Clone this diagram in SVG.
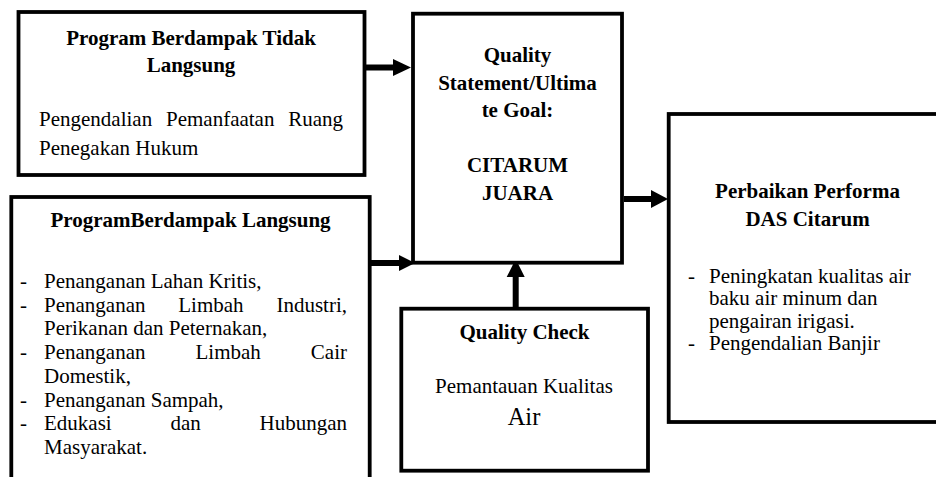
<svg xmlns="http://www.w3.org/2000/svg" width="936" height="477" viewBox="0 0 936 477" font-family="'Liberation Serif', serif">
<style>
.box{fill:#fff;stroke:#000;stroke-width:3.8}
.t{font-family:'Liberation Serif', serif;font-size:21px;fill:#000}
.b{font-weight:bold}
.c{text-anchor:middle}
.e{text-anchor:end}
.shaft{stroke:#000;stroke-width:6;fill:none}
.head{fill:#000}
</style>
<rect width="936" height="477" fill="#fff"/>
<g id="connectors">
  <line class="shaft" x1="366" y1="67.5" x2="396" y2="67.5"/>
  <polygon class="head" points="393,59 411,67.5 393,76"/>
  <line class="shaft" x1="371" y1="263" x2="402" y2="263"/>
  <polygon class="head" points="399,255 415,263 399,271"/>
  <line class="shaft" x1="624" y1="199" x2="654" y2="199"/>
  <polygon class="head" points="651,190 668,199 651,208"/>
  <line class="shaft" x1="515.7" y1="307" x2="515.7" y2="274"/>
  <polygon class="head" points="506.7,277 515.7,259 524.7,277"/>
</g>
<g id="indirect">
  <rect class="box" x="18.5" y="12" width="346" height="163"/>
  <text class="t b c" x="191" y="45">Program Berdampak Tidak</text>
  <text class="t b c" x="191" y="72">Langsung</text>
  <text class="t" x="39" y="126">Pengendalian</text>
  <text class="t" x="166" y="126">Pemanfaatan</text>
  <text class="t e" x="343" y="126">Ruang</text>
  <text class="t" x="39" y="155">Penegakan Hukum</text>
</g>
<g id="direct">
  <rect class="box" x="11.3" y="197" width="358.4" height="300"/>
  <text class="t b c" x="190.5" y="227">ProgramBerdampak Langsung</text>
  <g class="t">
    <text x="20" y="288">-</text>
    <text x="44" y="288">Penanganan Lahan Kritis,</text>
    <text x="20" y="311.7">-</text>
    <text x="44" y="311.7">Penanganan</text>
    <text x="178.3" y="311.7">Limbah</text>
    <text class="e" x="347" y="311.7">Industri,</text>
    <text x="44" y="335.4">Perikanan dan Peternakan,</text>
    <text x="20" y="359.1">-</text>
    <text x="44" y="359.1">Penanganan</text>
    <text x="195.5" y="359.1">Limbah</text>
    <text class="e" x="347" y="359.1">Cair</text>
    <text x="44" y="382.8">Domestik,</text>
    <text x="20" y="406.5">-</text>
    <text x="44" y="406.5">Penanganan Sampah,</text>
    <text x="20" y="430.2">-</text>
    <text x="44" y="430.2">Edukasi</text>
    <text x="170.4" y="430.2">dan</text>
    <text class="e" x="347" y="430.2">Hubungan</text>
    <text x="44" y="454">Masyarakat.</text>
  </g>
</g>
<g id="goal">
  <rect class="box" x="413" y="13.7" width="209" height="249"/>
  <text class="t b c" x="517.5" y="62">Quality</text>
  <text class="t b c" x="517.5" y="89.5">Statement/Ultima</text>
  <text class="t b c" x="517.5" y="117">te Goal:</text>
  <text class="t b c" x="517.5" y="172">CITARUM</text>
  <text class="t b c" x="517.5" y="199.5">JUARA</text>
</g>
<g id="check">
  <rect class="box" x="401.3" y="308.7" width="246.7" height="162"/>
  <text class="t b c" x="524.5" y="339">Quality Check</text>
  <text class="t c" x="524" y="393">Pemantauan Kualitas</text>
  <text class="t c" x="524" y="425" style="font-size:24.5px">Air</text>
</g>
<g id="performance">
  <rect class="box" x="668.7" y="114" width="280" height="308"/>
  <text class="t b c" x="807.5" y="198">Perbaikan Performa</text>
  <text class="t b c" x="807.5" y="226">DAS Citarum</text>
  <text class="t" x="688" y="282.5">-</text>
  <text class="t" x="709" y="282.5">Peningkatan kualitas air</text>
  <text class="t" x="709" y="305">baku air minum dan</text>
  <text class="t" x="709" y="327.5">pengairan irigasi.</text>
  <text class="t" x="688" y="350">-</text>
  <text class="t" x="709" y="350">Pengendalian Banjir</text>
</g>
</svg>
